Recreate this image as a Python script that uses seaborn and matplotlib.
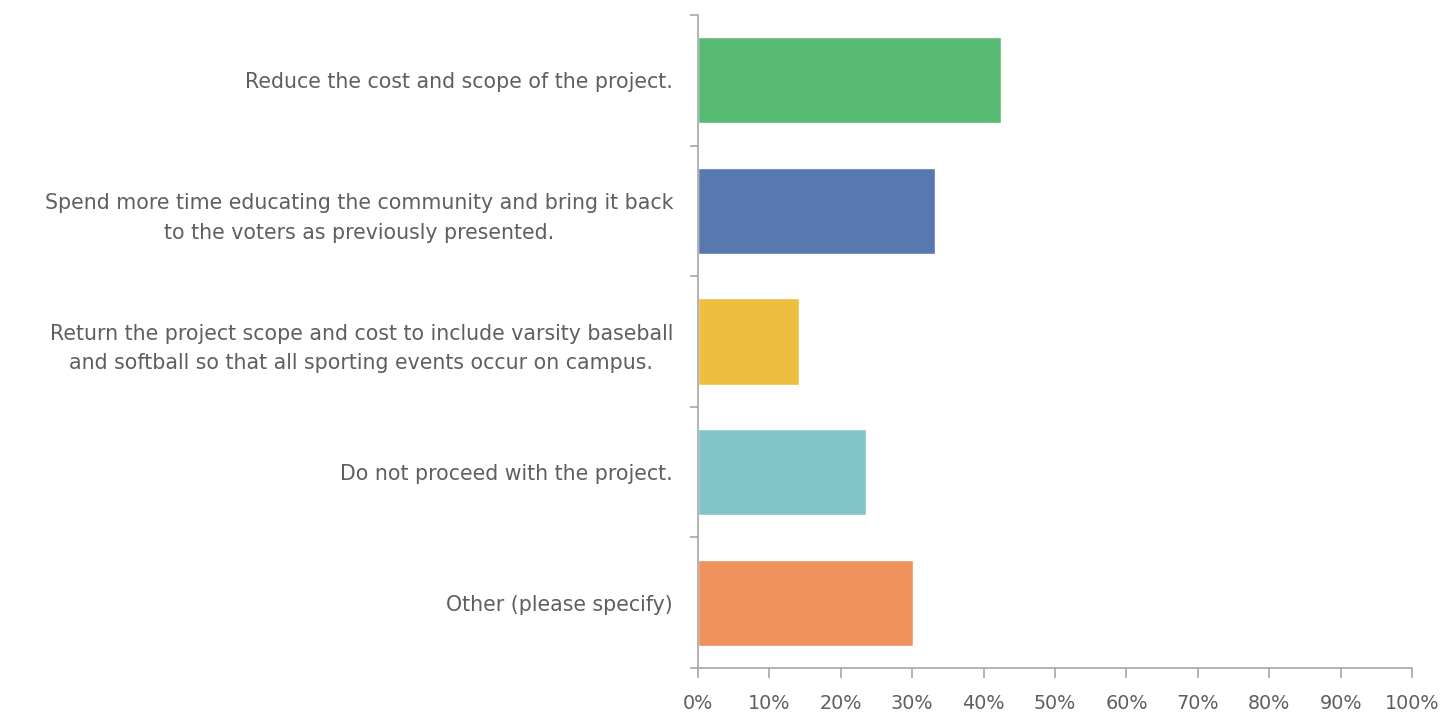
import matplotlib.pyplot as plt
import matplotlib.ticker as mticker
import seaborn as sns
import pandas as pd

categories = [
    "Reduce the cost and scope of the project.",
    "Spend more time educating the community and bring it back\nto the voters as previously presented.",
    "Return the project scope and cost to include varsity baseball\nand softball so that all sporting events occur on campus.",
    "Do not proceed with the project.",
    "Other (please specify)",
]
values = [42.5, 33.2, 14.1, 23.5, 30.1]
colors = ["#57BB74", "#5878B0", "#EDBE3F", "#82C4C9", "#EF925C"]

df = pd.DataFrame({"answer": categories, "pct": values})

sns.set_style("white")
plt.rcParams['font.family'] = ['DejaVu Sans']

fig = plt.figure(figsize=(14.41, 7.15), dpi=100)
ax = fig.add_axes([0.4844, 0.0657, 0.4955, 0.9133])

sns.barplot(data=df, y="answer", x="pct", hue="answer", palette=colors,
            orient="h", width=0.66, legend=False, ax=ax, saturation=1)

ax.set_xlim(0, 100)
ax.set_ylim(4.5, -0.5)
ax.set_xlabel("")
ax.set_ylabel("")
ax.xaxis.set_major_locator(mticker.MultipleLocator(10))
ax.xaxis.set_major_formatter(mticker.FuncFormatter(lambda v, p: f"{int(v)}%"))

grey = "#5F5F5F"
line = "#A6A6A6"
for s in ["top", "right"]:
    ax.spines[s].set_visible(False)
for s in ["left", "bottom"]:
    ax.spines[s].set_color(line)
    ax.spines[s].set_linewidth(1.2)

ax.set_yticks([i - 0.5 for i in range(6)], minor=True)
ax.tick_params(axis="y", which="major", length=0, pad=18, labelsize=14.8, labelcolor=grey)
ax.tick_params(axis="y", which="minor", length=6, color=line, width=1.2, left=True)
ax.tick_params(axis="x", which="major", length=7, color=line, width=1.2, bottom=True,
               pad=12, labelsize=13.8, labelcolor=grey)
for t in ax.get_yticklabels():
    t.set_linespacing(1.6)
    t.set_horizontalalignment("right")
    t.set_multialignment("center")

fig.savefig("out.png", dpi=100)
